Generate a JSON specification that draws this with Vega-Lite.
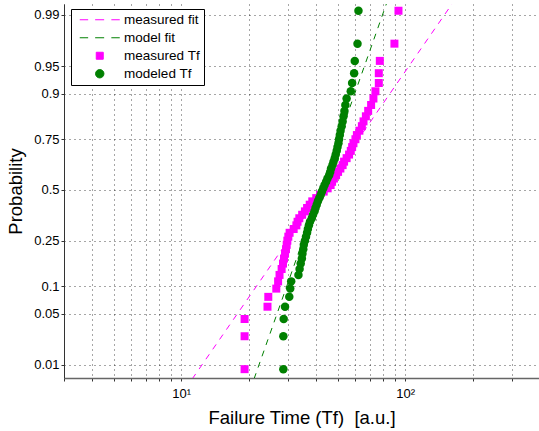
{
  "$schema": "https://vega.github.io/schema/vega-lite/v6.json",
  "width": 475,
  "height": 374,
  "autosize": {"type": "none"},
  "padding": {"left": 64, "top": 4, "right": 0, "bottom": 53},
  "background": "white",
  "config": {
    "view": {"stroke": null},
    "font": "Liberation Sans",
    "axis": {
      "labelFont": "Liberation Sans",
      "titleFont": "Liberation Sans",
      "labelColor": "#000",
      "titleColor": "#000",
      "titleFontWeight": "normal",
      "labelFontSize": 13,
      "titleFontSize": 18.5,
      "tickColor": "#333",
      "tickSize": 3,
      "domainColor": "#444",
      "grid": true,
      "gridColor": "#000",
      "gridOpacity": 0.7,
      "gridDash": [1, 4],
      "gridWidth": 1,
      "labelOverlap": false,
      "labelFlush": false
    }
  },
  "datasets": {
    "ranked": [
      {"p": 0.0086, "measured Tf": 19.2, "modeled Tf": 28.6},
      {"p": 0.0259, "measured Tf": 19.2, "modeled Tf": 28.6},
      {"p": 0.0431, "measured Tf": 19.2, "modeled Tf": 28.7},
      {"p": 0.0603, "measured Tf": 24.3, "modeled Tf": 29.1},
      {"p": 0.0776, "measured Tf": 24.5, "modeled Tf": 30.4},
      {"p": 0.0948, "measured Tf": 26.6, "modeled Tf": 30.7},
      {"p": 0.1121, "measured Tf": 27.1, "modeled Tf": 31.0},
      {"p": 0.1293, "measured Tf": 27.5, "modeled Tf": 33.4},
      {"p": 0.1466, "measured Tf": 28.1, "modeled Tf": 33.8},
      {"p": 0.1638, "measured Tf": 28.5, "modeled Tf": 34.2},
      {"p": 0.1810, "measured Tf": 28.8, "modeled Tf": 34.6},
      {"p": 0.1983, "measured Tf": 29.1, "modeled Tf": 34.8},
      {"p": 0.2155, "measured Tf": 29.4, "modeled Tf": 35.1},
      {"p": 0.2328, "measured Tf": 29.6, "modeled Tf": 35.3},
      {"p": 0.2500, "measured Tf": 29.8, "modeled Tf": 35.7},
      {"p": 0.2672, "measured Tf": 30.1, "modeled Tf": 36.1},
      {"p": 0.2845, "measured Tf": 30.5, "modeled Tf": 36.5},
      {"p": 0.3017, "measured Tf": 31.8, "modeled Tf": 36.8},
      {"p": 0.3190, "measured Tf": 32.7, "modeled Tf": 37.2},
      {"p": 0.3362, "measured Tf": 33.1, "modeled Tf": 37.6},
      {"p": 0.3534, "measured Tf": 33.7, "modeled Tf": 38.3},
      {"p": 0.3707, "measured Tf": 34.7, "modeled Tf": 38.8},
      {"p": 0.3879, "measured Tf": 35.7, "modeled Tf": 39.4},
      {"p": 0.4052, "measured Tf": 36.5, "modeled Tf": 39.8},
      {"p": 0.4224, "measured Tf": 37.5, "modeled Tf": 40.3},
      {"p": 0.4397, "measured Tf": 38.5, "modeled Tf": 40.8},
      {"p": 0.4569, "measured Tf": 40.1, "modeled Tf": 41.4},
      {"p": 0.4741, "measured Tf": 41.7, "modeled Tf": 42.0},
      {"p": 0.4914, "measured Tf": 43.3, "modeled Tf": 42.5},
      {"p": 0.5086, "measured Tf": 45.1, "modeled Tf": 43.1},
      {"p": 0.5259, "measured Tf": 46.5, "modeled Tf": 43.7},
      {"p": 0.5431, "measured Tf": 47.2, "modeled Tf": 44.4},
      {"p": 0.5603, "measured Tf": 48.1, "modeled Tf": 45.0},
      {"p": 0.5776, "measured Tf": 49.2, "modeled Tf": 45.8},
      {"p": 0.5948, "measured Tf": 50.2, "modeled Tf": 46.3},
      {"p": 0.6121, "measured Tf": 51.4, "modeled Tf": 46.7},
      {"p": 0.6293, "measured Tf": 52.6, "modeled Tf": 47.4},
      {"p": 0.6466, "measured Tf": 53.4, "modeled Tf": 47.9},
      {"p": 0.6638, "measured Tf": 54.8, "modeled Tf": 48.5},
      {"p": 0.6810, "measured Tf": 56.2, "modeled Tf": 49.0},
      {"p": 0.6983, "measured Tf": 57.2, "modeled Tf": 49.5},
      {"p": 0.7155, "measured Tf": 58.0, "modeled Tf": 49.9},
      {"p": 0.7328, "measured Tf": 58.8, "modeled Tf": 50.4},
      {"p": 0.7500, "measured Tf": 60.0, "modeled Tf": 50.7},
      {"p": 0.7672, "measured Tf": 60.9, "modeled Tf": 51.1},
      {"p": 0.7845, "measured Tf": 62.5, "modeled Tf": 51.5},
      {"p": 0.8017, "measured Tf": 64.1, "modeled Tf": 52.1},
      {"p": 0.8190, "measured Tf": 65.2, "modeled Tf": 52.6},
      {"p": 0.8362, "measured Tf": 66.8, "modeled Tf": 53.1},
      {"p": 0.8534, "measured Tf": 68.4, "modeled Tf": 53.6},
      {"p": 0.8707, "measured Tf": 70.5, "modeled Tf": 54.1},
      {"p": 0.8879, "measured Tf": 72.2, "modeled Tf": 54.8},
      {"p": 0.9052, "measured Tf": 73.7, "modeled Tf": 57.2},
      {"p": 0.9224, "measured Tf": 76.3, "modeled Tf": 58.0},
      {"p": 0.9397, "measured Tf": 76.3, "modeled Tf": 59.2},
      {"p": 0.9569, "measured Tf": 77.1, "modeled Tf": 59.6},
      {"p": 0.9741, "measured Tf": 89.6, "modeled Tf": 61.3},
      {"p": 0.9914, "measured Tf": 93.4, "modeled Tf": 61.9}
    ],
    "fits": [
      {"series": "measured fit", "Tf": 11.21, "p": 0.006},
      {"series": "measured fit", "Tf": 165.4, "p": 0.994},
      {"series": "model fit", "Tf": 21.16, "p": 0.006},
      {"series": "model fit", "Tf": 83.35, "p": 0.994}
    ]
  },
  "encoding": {
    "x": {
      "field": "Tf",
      "type": "quantitative",
      "scale": {"type": "log", "domain": [3, 396], "nice": false},
      "axis": {
        "title": "Failure Time (Tf) \u00a0[a.u.]",
        "values": [3, 4, 5, 6, 7, 8, 9, 10, 20, 30, 40, 50, 60, 70, 80, 90, 100, 200, 300],
        "labelExpr": "datum.value == 10 ? '10\u00b9' : datum.value == 100 ? '10\u00b2' : ''",
        "labelPadding": 6,
        "titlePadding": 8,
        "domainColor": "#666",
        "domainWidth": 1.5
      }
    },
    "y": {
      "field": "z",
      "type": "quantitative",
      "scale": {"domain": [-2.5, 2.472], "nice": false, "zero": false},
      "axis": {
        "title": "Probability",
        "values": [-2.3263, -1.6449, -1.2816, -0.6745, 0, 0.6745, 1.2816, 1.6449, 2.3263],
        "labelExpr": "format(cumulativeNormal(datum.value), '.2~f')",
        "labelPadding": 2,
        "titlePadding": 8,
        "domainColor": "#333"
      }
    },
    "color": {
      "field": "series",
      "type": "nominal",
      "scale": {
        "domain": ["measured fit", "model fit", "measured Tf", "modeled Tf"],
        "range": ["#ff00ff", "#008000", "#ff00ff", "#008000"]
      },
      "legend": {
        "title": null,
        "orient": "none",
        "legendX": 7,
        "legendY": 5,
        "fillColor": "white",
        "strokeColor": "#000",
        "padding": 4,
        "symbolSize": 100,
        "symbolOffset": 18,
        "labelOffset": 17.6,
        "rowPadding": 3,
        "labelFont": "Liberation Sans",
        "labelFontSize": 13.5,
        "labelColor": "#000",
        "encode": {
          "symbols": {
            "update": {
              "size": {"value": 100},
              "shape": {"signal": "datum.value === 'measured Tf' ? 'M-0.7,-0.7H0.7V0.7H-0.7Z' : datum.value === 'modeled Tf' ? 'M-0.84,0A0.84,0.84,0,1,0,0.84,0A0.84,0.84,0,1,0,-0.84,0Z' : 'M-4,0H-2.32M-0.92,0H0.88M2.32,0H4'"},
              "fill": {"signal": "datum.value === 'measured Tf' ? '#ff00ff' : datum.value === 'modeled Tf' ? '#008000' : 'transparent'"},
              "stroke": {"signal": "datum.value === 'measured fit' ? '#ff00ff' : datum.value === 'model fit' ? '#008000' : 'transparent'"},
              "strokeWidth": {"value": 1},
              "opacity": {"value": 1},
              "fillOpacity": {"value": 1},
              "strokeOpacity": {"value": 1}
            }
          }
        }
      }
    }
  },
  "layer": [
    {
      "data": {"name": "fits"},
      "transform": [{"calculate": "quantileNormal(datum.p)", "as": "z"}],
      "mark": {"type": "line", "strokeDash": [6, 6], "strokeWidth": 1, "clip": true}
    },
    {
      "data": {"name": "ranked"},
      "transform": [
        {"fold": ["measured Tf", "modeled Tf"], "as": ["series", "Tf"]},
        {"calculate": "quantileNormal(datum.p)", "as": "z"}
      ],
      "mark": {"type": "point", "filled": true, "opacity": 1, "strokeWidth": 0},
      "encoding": {
        "shape": {
          "field": "series",
          "type": "nominal",
          "scale": {"domain": ["measured Tf", "modeled Tf"], "range": ["square", "circle"]},
          "legend": null
        },
        "size": {
          "field": "series",
          "type": "ordinal",
          "scale": {"domain": ["measured Tf", "modeled Tf"], "range": [64, 72]},
          "legend": null
        },
        "order": {"field": "series", "type": "nominal", "sort": "ascending"}
      }
    }
  ]
}
